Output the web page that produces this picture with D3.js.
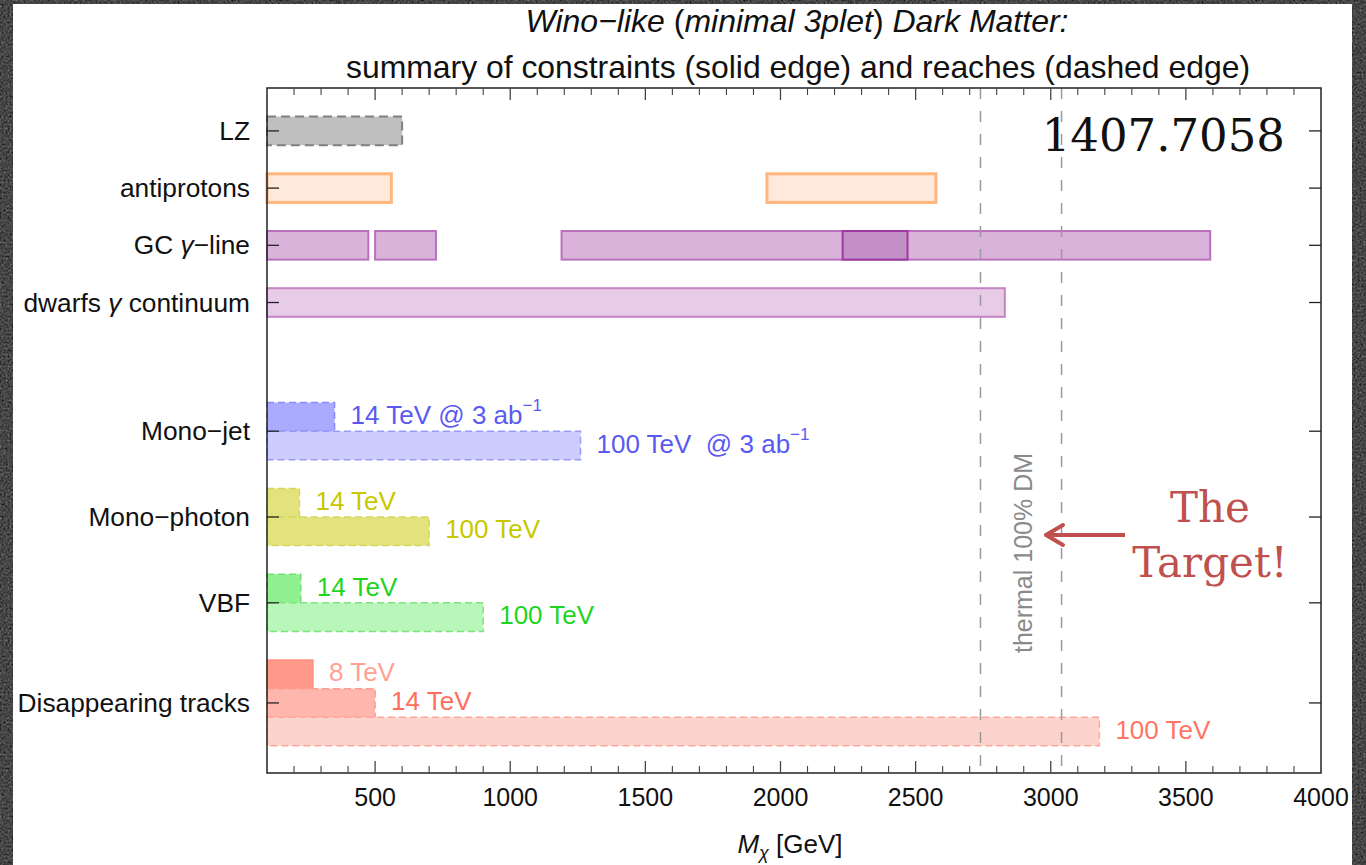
<!DOCTYPE html>
<html>
<head>
<meta charset="utf-8">
<script src="https://cdn.jsdelivr.net/npm/d3@7"></script>
<style>
  html, body { margin: 0; padding: 0; background: #3e3e3e; }
  svg { display: block; }
  text { font-family: "Liberation Sans", Arial, sans-serif; }
  text.slab { font-family: "DejaVu Serif", serif; }
</style>
</head>
<body>
<svg id="chart" width="1366" height="865"></svg>
<script>
// ---- data -------------------------------------------------------------
const categories = ["LZ", "antiprotons", "GC γ−line", "dwarfs γ continuum",
                    "Mono−jet", "Mono−photon", "VBF", "Disappearing tracks"];
const categoryRows = [0, 2, 4, 6, 10.5, 13.5, 16.5, 20];

// mass ranges in GeV (each bar starts at the lower edge of the axis unless given)
const lzReach = [[100, 600]];
const antiprotonBounds = [[100, 560], [1950, 2575]];
const gcLineBounds = [[100, 475], [500, 725], [1190, 3590]];
const gcLineCore = [[2230, 2470]];
const dwarfBounds = [[100, 2830]];

const monoJetReach = [350, 1260];           // 14 TeV, 100 TeV  @ 3 ab^-1
const monoPhotonReach = [220, 700];         // 14 TeV, 100 TeV
const vbfReach = [225, 900];                // 14 TeV, 100 TeV
const disappearingReach = [270, 500, 3180]; // 8 TeV (bound), 14 TeV, 100 TeV

const thermalBand = [2740, 3040];
const xTickValues = [500, 1000, 1500, 2000, 2500, 3000, 3500, 4000];
const xMin = 100, xMax = 4000;

// ---- layout -----------------------------------------------------------
const svg = d3.select("#chart");
const W = 1366, H = 865;
const plot = { left: 267, right: 1321, top: 88, bottom: 773 };

const x = d3.scaleLinear().domain([xMin, xMax]).range([plot.left, plot.right]);
const y = d3.scaleLinear().domain([-1.5, 22.45]).range([plot.top, plot.bottom]);
const barH = y(0.5) - y(-0.5);

// ---- backdrop: grainy stone border around a white sheet ---------------
const defs = svg.append("defs");
const f = defs.append("filter").attr("id", "grain")
  .attr("x", 0).attr("y", 0).attr("width", "100%").attr("height", "100%")
  .attr("color-interpolation-filters", "sRGB");
f.append("feTurbulence").attr("type", "fractalNoise")
  .attr("baseFrequency", "0.5").attr("numOctaves", 3).attr("seed", 7);
f.append("feColorMatrix").attr("type", "matrix")
  .attr("values", "0.33 0.33 0.33 0 0  0.33 0.33 0.33 0 0  0.33 0.33 0.33 0 0  0 0 0 0 1");
const ct = f.append("feComponentTransfer");
["R", "G", "B"].forEach(c => ct.append("feFunc" + c).attr("type", "linear").attr("slope", 1.4).attr("intercept", -0.4));

svg.append("rect").attr("width", W).attr("height", H).attr("fill", "#3e3e3e");
svg.append("rect").attr("width", W).attr("height", H).attr("filter", "url(#grain)").attr("opacity", 0.6);
svg.append("rect").attr("x", 13).attr("y", 4).attr("width", 1352 - 13).attr("height", H - 4).attr("fill", "#ffffff");

// ---- bar styles -------------------------------------------------------
const styles = {
  lz:      { fill: "#bfbfbf", stroke: "#808080", dash: "9,5", sw: 2 },
  anti:    { fill: "#fee9da", stroke: "#ffb67c", dash: null, sw: 3 },
  gc:      { fill: "#d9b3da", stroke: "#bb70bd", dash: null, sw: 2 },
  gcCore:  { fill: "#c48fc6", stroke: "#9c3aa0", dash: null, sw: 2 },
  dwarf:   { fill: "#e7cbe7", stroke: "#c383c5", dash: null, sw: 2 },
  mj14:    { fill: "#aaaaff", stroke: "#8a8af8", dash: "7,4", sw: 1.5 },
  mj100:   { fill: "#ccccff", stroke: "#9a9af8", dash: "7,4", sw: 1.5 },
  mp14:    { fill: "#e3e37e", stroke: "#d6d65e", dash: "7,4", sw: 1.5 },
  mp100:   { fill: "#e3e37e", stroke: "#d6d65e", dash: "7,4", sw: 1.5 },
  vbf14:   { fill: "#8ef08e", stroke: "#6fe06f", dash: "7,4", sw: 1.5 },
  vbf100:  { fill: "#b9f6b9", stroke: "#7fe47f", dash: "7,4", sw: 1.5 },
  dt8:     { fill: "#ff9a8b", stroke: "#ff8f7f", dash: null, sw: 1.5 },
  dt14:    { fill: "#ffb7ad", stroke: "#ff9c8e", dash: "7,4", sw: 1.5 },
  dt100:   { fill: "#fdd3ce", stroke: "#ffa79b", dash: "7,4", sw: 1.5 }
};

// ---- assemble bars from the ranges ------------------------------------
const bars = [];
lzReach.forEach(r => bars.push({ row: 0, lo: r[0], hi: r[1], kind: "lz" }));
antiprotonBounds.forEach(r => bars.push({ row: 2, lo: r[0], hi: r[1], kind: "anti" }));
gcLineBounds.forEach(r => bars.push({ row: 4, lo: r[0], hi: r[1], kind: "gc" }));
gcLineCore.forEach(r => bars.push({ row: 4, lo: r[0], hi: r[1], kind: "gcCore" }));
dwarfBounds.forEach(r => bars.push({ row: 6, lo: r[0], hi: r[1], kind: "dwarf" }));

const colliderLabels = [];
function collider(reach, rows, kinds, texts, colors) {
  reach.forEach((v, i) => {
    bars.push({ row: rows[i], lo: xMin, hi: v, kind: kinds[i] });
    colliderLabels.push({ row: rows[i], at: v, text: texts[i], color: colors[i] });
  });
}
collider(monoJetReach, [10, 11], ["mj14", "mj100"],
         [["14 TeV @ 3 ab", "−1"], ["100 TeV\u00a0\u00a0@ 3 ab", "−1"]], ["#5a5af2", "#5a5af2"]);
collider(monoPhotonReach, [13, 14], ["mp14", "mp100"],
         [["14 TeV"], ["100 TeV"]], ["#c8c800", "#c8c800"]);
collider(vbfReach, [16, 17], ["vbf14", "vbf100"],
         [["14 TeV"], ["100 TeV"]], ["#1fd51f", "#1fd51f"]);
collider(disappearingReach, [19, 20, 21], ["dt8", "dt14", "dt100"],
         [["8 TeV"], ["14 TeV"], ["100 TeV"]], ["#ffa193", "#ff6e5c", "#ff7565"]);

svg.append("g").selectAll("rect").data(bars).join("rect")
  .attr("x", d => x(d.lo))
  .attr("y", d => y(d.row) - barH / 2)
  .attr("width", d => x(d.hi) - x(d.lo))
  .attr("height", barH)
  .attr("fill", d => styles[d.kind].fill)
  .attr("stroke", d => styles[d.kind].stroke)
  .attr("stroke-width", d => styles[d.kind].sw)
  .attr("stroke-dasharray", d => styles[d.kind].dash);

// collider reach labels
const lab = svg.append("g").selectAll("text").data(colliderLabels).join("text")
  .attr("x", d => x(d.at) + 16)
  .attr("y", d => y(d.row) - 2)
  .attr("dominant-baseline", "central")
  .attr("font-size", 26)
  .attr("fill", d => d.color);
lab.append("tspan").text(d => d.text[0]);
lab.filter(d => d.text.length > 1).append("tspan")
  .attr("font-size", 17).attr("dy", -10).text(d => d.text[1]);

// ---- thermal relic band -----------------------------------------------
svg.append("g").selectAll("line").data(thermalBand).join("line")
  .attr("x1", d => x(d)).attr("x2", d => x(d))
  .attr("y1", plot.top).attr("y2", plot.bottom)
  .attr("stroke", "#9a9a9a").attr("stroke-width", 1.5)
  .attr("stroke-dasharray", "11,12");

svg.append("text")
  .attr("transform", `translate(${(x(thermalBand[0]) + x(thermalBand[1])) / 2 + 2},553) rotate(-90)`)
  .attr("text-anchor", "middle").attr("dominant-baseline", "central")
  .attr("font-size", 25).attr("fill", "#8a8a8a")
  .text("thermal 100% DM");

// ---- frame and ticks --------------------------------------------------
const axisG = svg.append("g");
axisG.append("rect")
  .attr("x", plot.left).attr("y", plot.top)
  .attr("width", plot.right - plot.left).attr("height", plot.bottom - plot.top)
  .attr("fill", "none").attr("stroke", "#222").attr("stroke-width", 1.5);

const minorTicks = d3.range(200, xMax, 100).filter(v => v % 500 !== 0);
const tickColor = "#444";
[plot.top, plot.bottom].forEach((yy, k) => {
  const dir = k === 0 ? 1 : -1;
  axisG.append("g").selectAll("line").data(xTickValues.filter(v => v < xMax)).join("line")
    .attr("x1", d => x(d)).attr("x2", d => x(d))
    .attr("y1", yy).attr("y2", yy + dir * 12)
    .attr("stroke", tickColor).attr("stroke-width", 1.3);
  axisG.append("g").selectAll("line").data(minorTicks).join("line")
    .attr("x1", d => x(d)).attr("x2", d => x(d))
    .attr("y1", yy).attr("y2", yy + dir * 7)
    .attr("stroke", tickColor).attr("stroke-width", 1.1);
});
[plot.left, plot.right].forEach((xx, k) => {
  const dir = k === 0 ? 1 : -1;
  axisG.append("g").selectAll("line").data(categoryRows).join("line")
    .attr("x1", xx).attr("x2", xx + dir * 12)
    .attr("y1", d => y(d)).attr("y2", d => y(d))
    .attr("stroke", "#222").attr("stroke-width", 1.3);
});

// x tick labels
svg.append("g").selectAll("text").data(xTickValues).join("text")
  .attr("x", d => x(d)).attr("y", 806)
  .attr("text-anchor", "middle").attr("font-size", 25).attr("fill", "#111")
  .text(d => d);

// category labels (γ set in italics)
const catText = svg.append("g").selectAll("text").data(categories).join("text")
  .attr("x", 250).attr("y", (d, i) => y(categoryRows[i]))
  .attr("text-anchor", "end").attr("dominant-baseline", "central")
  .attr("font-size", 26.3).attr("fill", "#111");
catText.each(function (d) {
  const t = d3.select(this);
  const parts = d.split("γ");
  parts.forEach((p, j) => {
    if (j > 0) t.append("tspan").attr("font-style", "italic").text("γ");
    t.append("tspan").text(p);
  });
});

// x-axis title
const xt = svg.append("text").attr("x", 790).attr("y", 853)
  .attr("text-anchor", "middle").attr("font-size", 26).attr("fill", "#111");
xt.append("tspan").attr("font-style", "italic").text("M");
xt.append("tspan").attr("font-style", "italic").attr("font-size", 18).attr("dy", 6).text("χ");
xt.append("tspan").attr("dy", -6).text(" [GeV]");

// ---- titles -----------------------------------------------------------
const t1 = svg.append("text").attr("x", 797).attr("y", 32)
  .attr("text-anchor", "middle").attr("font-size", 32).attr("fill", "#111");
t1.append("tspan").attr("font-style", "italic").text("Wino−like");
t1.append("tspan").text(" (");
t1.append("tspan").attr("font-style", "italic").text("minimal 3plet");
t1.append("tspan").text(") ");
t1.append("tspan").attr("font-style", "italic").text("Dark Matter:");

svg.append("text").attr("x", 798).attr("y", 78)
  .attr("text-anchor", "middle").attr("font-size", 31.9).attr("fill", "#111")
  .text("summary of constraints (solid edge) and reaches (dashed edge)");

// arXiv number
svg.append("text").attr("class", "slab").attr("x", 1285).attr("y", 151)
  .attr("text-anchor", "end").attr("font-size", 45).attr("fill", "#111")
  .text("1407.7058");

// ---- annotation --------------------------------------------------------
const red = "#c0504d";
const ann = svg.append("g").attr("fill", red);
ann.append("text").attr("class", "slab").attr("x", 1210).attr("y", 522)
  .attr("font-size", 42).attr("text-anchor", "middle").text("The");
ann.append("text").attr("class", "slab").attr("x", 1210).attr("y", 577)
  .attr("font-size", 42).attr("text-anchor", "middle").text("Target!");

const ay = 535;
svg.append("line").attr("x1", 1125).attr("x2", 1047).attr("y1", ay).attr("y2", ay)
  .attr("stroke", red).attr("stroke-width", 4);
svg.append("path")
  .attr("d", `M1063,${ay - 10} L1046,${ay} L1063,${ay + 10}`)
  .attr("fill", "none").attr("stroke", red).attr("stroke-width", 4)
  .attr("stroke-linecap", "round").attr("stroke-linejoin", "round");
</script>
</body>
</html>
